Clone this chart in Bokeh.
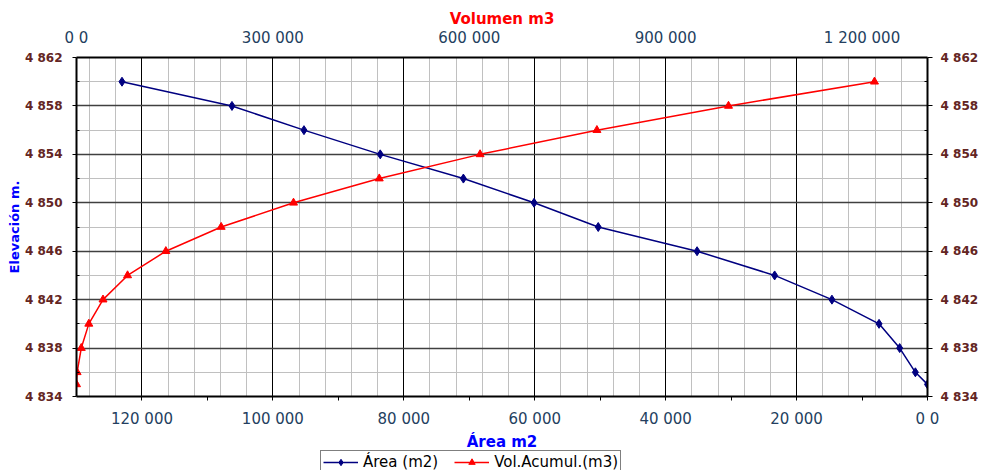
import numpy as np
from bokeh.plotting import figure
from bokeh.layouts import column
from bokeh.models import (Range1d, LinearAxis, FixedTicker, Grid, Title,
                          Legend, LegendItem)
from bokeh.embed import file_html
from bokeh.resources import INLINE

# ---- data ----
elevacion = [4835, 4836, 4838, 4840, 4842, 4844, 4846, 4848, 4850, 4852, 4854, 4856, 4858, 4860]
area_m2 = [0, 1850, 4250, 7400, 14600, 23350, 35200, 50300, 60100, 70900, 83600, 95250, 106250, 123050]
vol_m3 = [0, 900, 7300, 18800, 40500, 78000, 136500, 221000, 331500, 462500, 616500, 795000, 996000, 1219000]

area_ticks = [0, 20000, 40000, 60000, 80000, 100000, 120000]
area_tick_labels = ["0 0", "20 000", "40 000", "60 000", "80 000", "100 000", "120 000"]
vol_ticks = [0, 300000, 600000, 900000, 1200000]
vol_tick_labels = ["0 0", "300 000", "600 000", "900 000", "1 200 000"]
elev_ticks = [4834, 4838, 4842, 4846, 4850, 4854, 4858, 4862]
elev_tick_labels = ["4 834", "4 838", "4 842", "4 846", "4 850", "4 854", "4 858", "4 862"]

TICK_FONT = "DejaVu Sans"
TICK_COLOR = "#243F60"
ELEV_COLOR = "#632523"
AREA_COLOR = "#000080"
VOL_COLOR = "#FF0000"

p = figure(width=981, height=450, output_backend="svg", toolbar_location=None,
           x_range=Range1d(130000, 0), y_range=Range1d(4834, 4862),
           min_border_left=76, min_border_right=53, min_border_top=57,
           min_border_bottom=50, background_fill_color="white",
           border_fill_color="white", outline_line_color=None)
p.extra_x_ranges = {"vol": Range1d(0, 1300000)}

# remove default grids
p.xgrid.visible = False
p.ygrid.visible = False

# custom grids: light minor, dark major
p.add_layout(Grid(dimension=0, ticker=FixedTicker(ticks=list(range(4000, 130000, 4000))),
                  grid_line_color="#C0C0C0", grid_line_width=1))
p.add_layout(Grid(dimension=1, ticker=FixedTicker(ticks=list(range(4836, 4862, 2))),
                  grid_line_color="#C0C0C0", grid_line_width=1))
p.add_layout(Grid(dimension=0, ticker=FixedTicker(ticks=list(range(20000, 130000, 20000))),
                  grid_line_color="#000000", grid_line_width=1))
p.add_layout(Grid(dimension=1, ticker=FixedTicker(ticks=list(range(4838, 4862, 4))),
                  grid_line_color="#404040", grid_line_width=1.5))

# bottom axis (Área)
xa = p.xaxis[0]
xa.ticker = FixedTicker(ticks=area_ticks, minor_ticks=list(range(10000, 130000, 20000)))
xa.major_label_overrides = dict(zip(area_ticks, area_tick_labels))
xa.axis_line_width = 2
xa.axis_line_color = "black"
xa.major_tick_out = 4
xa.major_tick_in = 0
xa.minor_tick_out = 4
xa.minor_tick_in = 0
xa.minor_tick_line_color = "black"
xa.major_tick_line_color = "black"
xa.major_label_text_font = TICK_FONT
xa.major_label_text_font_size = "15px"
xa.major_label_text_color = TICK_COLOR
xa.major_label_standoff = 9

# top axis (Volumen)
ta = LinearAxis(x_range_name="vol",
                ticker=FixedTicker(ticks=vol_ticks, minor_ticks=[]),
                major_label_overrides=dict(zip(vol_ticks, vol_tick_labels)),
                axis_line_width=2, axis_line_color="black",
                major_tick_out=0, major_tick_in=0, minor_tick_out=0, minor_tick_in=0,
                major_label_text_font=TICK_FONT, major_label_text_font_size="15px",
                major_label_text_color=TICK_COLOR, major_label_standoff=11)
p.add_layout(ta, "above")

# left axis (Elevación)
ya = p.yaxis[0]
ya.ticker = FixedTicker(ticks=elev_ticks, minor_ticks=list(range(4836, 4862, 4)))
ya.major_label_overrides = dict(zip(elev_ticks, elev_tick_labels))
ya.axis_line_width = 2
ya.axis_line_color = "black"
ya.major_tick_out = 4
ya.major_tick_in = 0
ya.minor_tick_out = 0
ya.minor_tick_in = 3
ya.minor_tick_line_color = "black"
ya.major_label_text_font = TICK_FONT
ya.major_label_text_font_size = "12px"
ya.major_label_text_font_style = "bold"
ya.major_label_text_color = ELEV_COLOR
ya.major_label_standoff = 10

ra = LinearAxis(ticker=FixedTicker(ticks=elev_ticks, minor_ticks=list(range(4836, 4862, 4))),
                major_label_overrides=dict(zip(elev_ticks, elev_tick_labels)),
                axis_line_width=2, axis_line_color="black",
                major_tick_out=5, major_tick_in=0, minor_tick_out=0, minor_tick_in=3,
                minor_tick_line_color="black",
                major_label_text_font=TICK_FONT, major_label_text_font_size="12px",
                major_label_text_font_style="bold", major_label_text_color=ELEV_COLOR,
                major_label_standoff=8)
p.add_layout(ra, "right")

# series
p.line(area_m2, elevacion, line_color=AREA_COLOR, line_width=1.5)
p.scatter(area_m2, elevacion, marker="diamond", size=9, color=AREA_COLOR)
p.line(vol_m3, elevacion, x_range_name="vol", line_color=VOL_COLOR, line_width=1.5)
p.scatter(vol_m3, elevacion, x_range_name="vol", marker="triangle", size=8, color=VOL_COLOR)

# titles (as side panels)
p.add_layout(Title(text="Volumen m3", align="center", offset=-7, standoff=-4,
                   text_font="DejaVu Sans", text_font_style="bold",
                   text_font_size="15px", text_color="#FF0000"), "above")
p.add_layout(Title(text="Elevación m.", align="center", offset=0, standoff=0,
                   text_font="DejaVu Sans", text_font_style="bold",
                   text_font_size="13px", text_color="#0000FF"), "left")
p.add_layout(Title(text="Área m2", align="center", offset=-40, standoff=0,
                   text_font="DejaVu Sans", text_font_style="bold",
                   text_font_size="15px", text_color="#0000FF"), "below")

# legend strip below the chart (series re-drawn out of view, only for legend glyphs)
lf = figure(width=981, height=20, output_backend="svg", toolbar_location=None,
            x_range=Range1d(0, 1), y_range=Range1d(0, 1),
            x_axis_location=None, y_axis_location=None,
            min_border_left=0, min_border_right=0, min_border_top=0, min_border_bottom=0,
            outline_line_color=None, background_fill_color="white",
            border_fill_color="white")
lf.xgrid.visible = False
lf.ygrid.visible = False
la1 = lf.line(area_m2, elevacion, line_color=AREA_COLOR, line_width=1.5)
la2 = lf.scatter(area_m2, elevacion, marker="diamond", size=9, color=AREA_COLOR)
lv1 = lf.line(vol_m3, elevacion, line_color=VOL_COLOR, line_width=1.5)
lv2 = lf.scatter(vol_m3, elevacion, marker="triangle", size=8, color=VOL_COLOR)

legend = Legend(items=[LegendItem(label="Área (m2)", renderers=[la1, la2]),
                       LegendItem(label="Vol.Acumul.(m3)", renderers=[lv1, lv2])],
                location=(244, -4), orientation="horizontal",
                label_text_font="DejaVu Sans", label_text_font_size="15px",
                label_text_color="black", glyph_width=35, glyph_height=16,
                label_height=16, label_standoff=5, spacing=16, padding=2, margin=0,
                border_line_color="black", border_line_width=1,
                background_fill_color="white", background_fill_alpha=1)
lf.add_layout(legend, "center")

layout = column(p, lf, spacing=0)
open("out.html", "w").write(file_html(layout, INLINE))
